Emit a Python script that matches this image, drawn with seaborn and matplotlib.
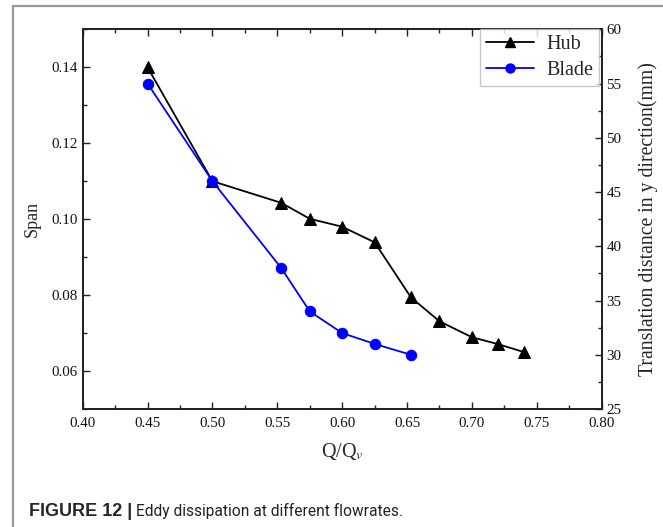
import matplotlib
matplotlib.use("Agg")
import matplotlib.pyplot as plt
import matplotlib.patches as patches
from matplotlib.ticker import MultipleLocator
from matplotlib.lines import Line2D
import seaborn as sns

# Hub -> left axis (Span), Blade -> right axis (mm)
q_hub = [0.45, 0.50, 0.553, 0.575, 0.60, 0.625, 0.653, 0.675, 0.70, 0.72, 0.74]
span_hub = [0.140, 0.110, 0.1043, 0.1001, 0.0980, 0.0939, 0.0794, 0.0731, 0.0689, 0.0671, 0.0650]
q_blade = [0.45, 0.50, 0.553, 0.575, 0.60, 0.625, 0.653]
dist_blade = [55, 46, 38, 34, 32, 31, 30]

sns.set_theme(style="white")
plt.rcParams['font.family'] = ['Liberation Serif', 'DejaVu Serif']
plt.rcParams['mathtext.fontset'] = 'stix'

fig = plt.figure(figsize=(6.63, 5.27), dpi=100)
ax = fig.add_axes([0.1247, 0.2239, 0.7828, 0.7205])

sns.lineplot(x=q_hub, y=span_hub, marker='^', color='black', markersize=8,
             markeredgecolor='black', linewidth=1.3, ax=ax)
ax2 = ax.twinx()
sns.lineplot(x=q_blade, y=dist_blade, marker='o', color='blue', markersize=7.5,
             markeredgecolor='blue', linewidth=1.3, ax=ax2)

ax.set_xlim(0.40, 0.80)
ax.set_ylim(0.05, 0.15)
ax2.set_ylim(25, 60)
ax.xaxis.set_major_locator(MultipleLocator(0.05))
ax.xaxis.set_minor_locator(MultipleLocator(0.025))
ax.yaxis.set_major_locator(MultipleLocator(0.02))
ax.yaxis.set_minor_locator(MultipleLocator(0.01))
ax2.yaxis.set_major_locator(MultipleLocator(5))
ax2.yaxis.set_minor_locator(MultipleLocator(2.5))
ax.set_xticklabels([f"{v:.2f}" for v in ax.get_xticks()])
ax.set_yticks([0.06, 0.08, 0.10, 0.12, 0.14])
ax.set_yticklabels(["0.06", "0.08", "0.10", "0.12", "0.14"])

for a in (ax, ax2):
    for s in a.spines.values():
        s.set_color('#222222')
        s.set_linewidth(1.3)
ax.tick_params(axis='both', which='major', direction='in', length=5, width=1,
               labelsize=10.8, color='#222222', labelcolor='#111111',
               top=True, bottom=True, left=True)
ax.tick_params(axis='both', which='minor', direction='in', length=3, width=1,
               color='#222222', top=True, bottom=True, left=True)
ax.tick_params(axis='y', which='both', right=False)
ax2.tick_params(axis='y', which='major', direction='in', length=5, width=1,
                labelsize=10.8, color='#222222', labelcolor='#111111')
ax2.tick_params(axis='y', which='minor', direction='in', length=3, width=1, color='#222222')
ax.tick_params(axis='x', pad=6)

ax.set_xlabel(r"Q/Q$_{v}$", fontsize=14.5, labelpad=8)
ax.set_ylabel("Span", fontsize=13, labelpad=8)
ax2.set_ylabel("Translation distance in y direction(mm)", fontsize=14.2, labelpad=12)

handles = [Line2D([], [], color='black', marker='^', markersize=7, lw=1.3),
           Line2D([], [], color='blue', marker='o', markersize=6.5, lw=1.3)]
leg = ax2.legend(handles, ["Hub", "Blade"], loc='upper right', fontsize=14.5,
                 frameon=True, fancybox=False, bbox_to_anchor=(0.995, 1.0),
                 borderaxespad=0.0, handlelength=2.4, handletextpad=0.6,
                 borderpad=0.3, labelspacing=0.3)
leg.get_frame().set_edgecolor('#bbbbbb')
leg.get_frame().set_linewidth(1.0)

# outer frame and caption
fig.patches.append(patches.Rectangle((13 / 663, -0.05), 1.1, 0.9886 + 0.05,
                                     transform=fig.transFigure, fill=False,
                                     edgecolor='#999999', linewidth=1.6))
t1 = fig.text(29 / 663, 1 - 511 / 527, "FIGURE 12 |", fontsize=13, fontweight='bold',
              family=['Liberation Sans', 'DejaVu Sans'], va='center', ha='left')
fig.canvas.draw()
bb = t1.get_window_extent()
fig.text((bb.x1 + 4) / fig.bbox.width, 1 - 511 / 527,
         "Eddy dissipation at different flowrates.", fontsize=11.2, color='#222222',
         family=['Roboto', 'Liberation Sans', 'DejaVu Sans'], va='center', ha='left')

fig.savefig("out.png", dpi=100)
